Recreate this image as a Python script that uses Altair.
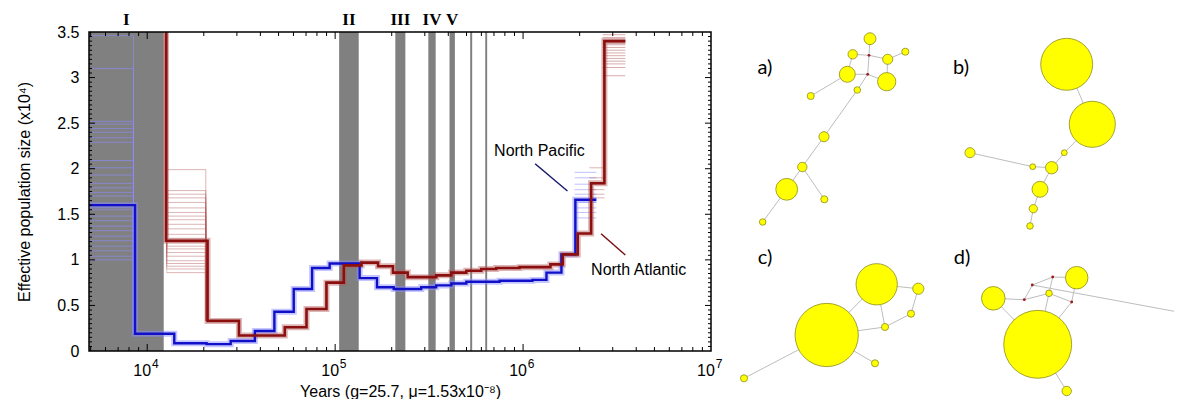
import altair as alt
import pandas as pd

# ------------------------------------------------------------------ data
# gray bands (years)
band_start = [4900, 105000, 209000, 313200, 406000, 523000, 629000]
band_end = [12240, 133500, 236400, 342700, 433700, 536000, 644000]
roman_labels = ["I", "II", "III", "IV", "V"]
roman_x = [7750, 118400, 222300, 327600, 419600]

# North Pacific main PSMC curve (step-after), Ne x10^4
np_years = [4900, 8610, 13930, 20700, 27800, 37400, 47500, 60200, 75400, 93500,
            135000, 167000, 205000, 287000, 345000, 415000, 499000, 750000,
            1122000, 1332000, 1600000, 1898000, 2455000]
np_ne = [1.60, 0.19, 0.085, 0.075, 0.11, 0.22, 0.43, 0.68, 0.91, 0.96,
         0.80, 0.70, 0.68, 0.70, 0.72, 0.74, 0.76, 0.77,
         0.78, 0.86, 1.06, 1.66, 1.66]

# North Atlantic main PSMC curve (step-after)
na_years = [12590, 12590, 20940, 30770, 53970, 70400, 89900, 111200, 138100,
            169200, 203100, 243200, 345400, 415000, 498900, 598800, 719400,
            957000, 1398000, 1626000, 1954000, 2302000, 2709000, 3502000]
na_ne = [4.0, 1.21, 0.33, 0.17, 0.26, 0.46, 0.75, 0.94, 0.97,
         0.93, 0.86, 0.81, 0.83, 0.86, 0.88, 0.90, 0.91,
         0.92, 0.95, 1.06, 1.29, 1.84, 3.40, 3.40]

# bootstrap levels where they spread widely
np_boot_first = [3.46, 3.10, 2.52, 2.49, 2.44, 2.40, 2.34, 2.29, 2.09, 2.01, 1.93,
                 1.84, 1.79, 1.74, 1.70, 1.55, 1.48, 1.43, 1.37, 1.32, 1.26, 1.21,
                 1.15, 1.10, 1.04, 1.00]
np_boot_first_span = [4900, 8450, 0.19]
np_boot_last = [1.96, 1.90, 1.83, 1.77, 1.72, 1.63, 1.57, 1.52, 1.46]
np_boot_last_span = [1880000, 2455000]

na_boot_first = [1.99, 1.76, 1.72, 1.68, 1.63, 1.57, 1.52, 1.48, 1.44, 1.39, 1.34,
                 1.28, 1.23, 1.19, 1.15, 1.12, 1.08, 1.04, 0.99, 0.96, 0.93, 0.90, 0.86]
na_boot_first_span = [12700, 20500, 0.33]
na_boot_pen = [2.01, 1.90, 1.83, 1.77, 1.72, 1.68]
na_boot_pen_span = [2250000, 2709000]
na_boot_last = [3.47, 3.44, 3.41, 3.38, 3.36, 3.33, 3.30, 3.27, 3.24, 3.21, 3.18,
                3.15, 3.11, 3.02]
na_boot_last_span = [2650000, 3502000]

# annotations
ann_text = ["North Pacific", "North Atlantic"]
ann_x = [1222000, 4121000]
ann_y = [2.19, 0.89]
lead_x1 = [1159000, 2600000]
lead_y1 = [2.055, 1.287]
lead_x2 = [1722000, 3500000]
lead_y2 = [1.756, 1.053]
lead_color = ["#1a1a6e", "#7a1010"]

# axis ticks
x_label_vals = [1e4, 1e5, 1e6, 1e7]
x_label_exp = ["4", "5", "6", "7"]
x_major = [1e4, 1e5, 1e6]
x_minor = [m * 10 ** e for e in (3, 4, 5, 6) for m in range(2, 10) if 4900 < m * 10 ** e < 1e7]
y_vals = [0, 0.5, 1, 1.5, 2, 2.5, 3, 3.5]
y_major = [0.5, 1.0, 1.5, 2.0, 2.5, 3.0]
y_minor = [round(0.05 * i, 2) for i in range(1, 70) if i % 10]

# haplotype networks: node id, x, y (reference pixel coords), radius
node_id = ["a1", "a2", "a3", "a4", "a5", "a6", "a7", "a8", "a9", "a10", "a11", "a12", "a13",
           "b1", "b2", "b3", "b4", "b5", "b6", "b7", "b8", "b9",
           "c1", "c2", "c3", "c4", "c5", "c6", "c7",
           "d1", "d2", "d3", "d4", "d5", "d6"]
node_x = [870, 852.7, 887.7, 905.3, 847.3, 886.7, 810.7, 857.3, 824, 802.3, 786.7, 824.3, 762.7,
          1066.7, 1092.3, 1064.3, 970, 1032.7, 1051.7, 1040, 1033.3, 1030,
          876.7, 826.7, 918.3, 911, 885, 875, 744,
          1076.7, 993.3, 1049, 1037.7, 1066.7, 1181.7]
node_y = [37.7, 53.3, 58.3, 50.7, 73.3, 80.7, 95, 89, 135.7, 166, 188.3, 198.3, 221,
          63.3, 123.3, 151.7, 151.7, 165.7, 166.7, 188.3, 207.7, 225,
          283.3, 334, 287.7, 312.7, 326, 362.3, 377.3,
          276.7, 297.3, 292.3, 343.3, 390, 311.7]
node_r = [6.7, 5.3, 5.7, 4.0, 9.0, 10.3, 4.0, 3.7, 5.7, 5.3, 12.3, 4.0, 3.7,
          29.3, 26, 3.3, 5.7, 3.3, 7, 9, 4.7, 3.7,
          23.3, 35.7, 6.3, 4, 4, 4, 4,
          12.7, 13.3, 3.7, 38.3, 5.3, 3.3]
median_id = ["am1", "am2", "dm1", "dm2", "dm3", "dm4"]
median_x = [869, 867.7, 1032.3, 1052.7, 1024.3, 1071.7]
median_y = [54.3, 73.3, 284, 276, 298.7, 301]
edges = [("a1", "am1"), ("a2", "am1"), ("am1", "a3"), ("a3", "a4"), ("am1", "am2"),
         ("a5", "am2"), ("am2", "a6"), ("a2", "a5"), ("a3", "a6"), ("a5", "a7"),
         ("am2", "a8"), ("a8", "a9"), ("a9", "a10"), ("a10", "a11"), ("a10", "a12"),
         ("a11", "a13"),
         ("b1", "b2"), ("b2", "b3"), ("b3", "b6"), ("b4", "b5"), ("b5", "b6"),
         ("b6", "b7"), ("b7", "b8"), ("b8", "b9"),
         ("c2", "c1"), ("c1", "c3"), ("c3", "c4"), ("c4", "c5"), ("c5", "c1"),
         ("c5", "c2"), ("c2", "c6"), ("c2", "c7"),
         ("dm2", "d1"), ("dm1", "dm2"), ("dm1", "dm3"), ("dm2", "d3"), ("dm3", "d3"),
         ("d2", "dm3"), ("d3", "dm4"), ("dm4", "d1"), ("dm1", "d6"), ("d3", "d4"),
         ("dm4", "d4"), ("d2", "d4"), ("d4", "d5")]
panel_labels = ["a)", "b)", "c)", "d)"]
panel_lx = [765, 961, 765, 962]
panel_ly = [67, 67, 257, 257]

# ------------------------------------------------------------------ chart
FONT = "Liberation Sans"
W, H = 622, 319
BLUE, BLUE_L = "#1010c8", "#8c8cff"
RED, RED_L = "#8b0f0f", "#b35a5a"

XSCALE = alt.Scale(type="log", domain=[4900, 1e7], nice=False)
YSCALE = alt.Scale(domain=[0, 3.5], nice=False, zero=False)
XAXIS = alt.Axis(values=x_label_vals, labels=False, ticks=False, domain=False, grid=False,
                 title="Years (g=25.7, μ=1.53x10⁻⁸)", titlePadding=32)
YAXIS = alt.Axis(values=y_vals, format="~g", ticks=False, domain=False, grid=False,
                 labelPadding=10, title="Effective population size (x10⁴)", titlePadding=24)


def X(f="x"):
    return alt.X(f"{f}:Q", scale=XSCALE, axis=XAXIS)


def Y(f="y"):
    return alt.Y(f"{f}:Q", scale=YSCALE, axis=YAXIS)


bands = alt.Chart(pd.DataFrame({"x": band_start, "x2": band_end})).mark_rect(
    color="#808080").encode(x=X(), x2="x2:Q", y=alt.value(0), y2=alt.value(H))


def step_df(xs, ys):
    return pd.DataFrame({"x": xs, "y": ys, "o": list(range(len(xs)))})


def hrules(levels, x0, x1):
    return pd.DataFrame({"x": [x0] * len(levels), "x2": [x1] * len(levels), "y": levels})


boot_layers = []
for levels, span, col, op in [
    (np_boot_first, np_boot_first_span, BLUE_L, 0.6),
    (np_boot_last, np_boot_last_span, BLUE_L, 0.55),
    (na_boot_first, na_boot_first_span, RED_L, 0.45),
    (na_boot_pen, na_boot_pen_span, RED_L, 0.45),
    (na_boot_last, na_boot_last_span, RED_L, 0.5),
]:
    boot_layers.append(alt.Chart(hrules(levels, span[0], span[1])).mark_rule(
        color=col, strokeWidth=1, opacity=op, clip=True).encode(x=X(), x2="x2:Q", y=Y()))
    if len(span) == 3:
        vdf = pd.DataFrame({"x": [span[1]] * len(levels), "y": levels, "y2": [span[2]] * len(levels)})
        boot_layers.append(alt.Chart(vdf).mark_rule(
            color=col, strokeWidth=1, opacity=op, clip=True).encode(x=X(), y=Y(), y2="y2:Q"))

# red bootstraps rising to the top at the start
na_vert = pd.DataFrame({"x": [12700] * len(na_boot_first), "y": na_boot_first,
                        "y2": [3.5] * len(na_boot_first)})
boot_layers.append(alt.Chart(na_vert).mark_rule(color=RED_L, strokeWidth=1, opacity=0.3).encode(
    x=X(), y=Y(), y2="y2:Q"))


def line(xs, ys, color, width, op):
    return alt.Chart(step_df(xs, ys)).mark_line(
        color=color, strokeWidth=width, opacity=op, interpolate="step-after", clip=True
    ).encode(x=X(), y=Y(), order="o:Q")


halos = [line(np_years, np_ne, BLUE_L, 6, 0.5), line(na_years, na_ne, RED_L, 6, 0.45)]
mains = [line(np_years, np_ne, BLUE, 2.4, 1), line(na_years, na_ne, RED, 2.6, 1)]


def tick_layers():
    out = []
    for vals, L in [(x_major, 7), (x_minor, 4)]:
        d = pd.DataFrame({"x": vals})
        out.append(alt.Chart(d).mark_rule(color="black", strokeWidth=1).encode(
            x=X(), y=alt.value(H), y2=alt.value(H - L)))
        out.append(alt.Chart(d).mark_rule(color="black", strokeWidth=1).encode(
            x=X(), y=alt.value(0), y2=alt.value(L)))
    for vals, L in [(y_major, 6), (y_minor, 3)]:
        d = pd.DataFrame({"y": vals})
        out.append(alt.Chart(d).mark_rule(color="black", strokeWidth=1).encode(
            y=Y(), x=alt.value(0), x2=alt.value(L)))
        out.append(alt.Chart(d).mark_rule(color="black", strokeWidth=1).encode(
            y=Y(), x=alt.value(W), x2=alt.value(W - L)))
    return out


frame = alt.Chart(pd.DataFrame({"k": [0]})).mark_rect(
    filled=False, stroke="black", strokeWidth=1.5).encode(
    x=alt.value(0), x2=alt.value(W), y=alt.value(0), y2=alt.value(H))

xlab_df = pd.DataFrame({"x": x_label_vals, "base": ["10"] * 4, "exp": x_label_exp})
xlab = alt.Chart(xlab_df).mark_text(font=FONT, fontSize=16, dx=-5, baseline="alphabetic",
                                    color="black").encode(x=X(), y=alt.value(H + 25), text="base:N")
xexp = alt.Chart(xlab_df).mark_text(font=FONT, fontSize=12, dx=8, baseline="alphabetic",
                                    color="black").encode(x=X(), y=alt.value(H + 17), text="exp:N")

roman = alt.Chart(pd.DataFrame({"x": roman_x, "t": roman_labels})).mark_text(
    font="Liberation Serif", fontWeight="bold", fontSize=17, baseline="middle", color="black"
).encode(x=X(), y=alt.value(-12), text="t:N")

ann = alt.Chart(pd.DataFrame({"x": ann_x, "y": ann_y, "t": ann_text})).mark_text(
    font=FONT, fontSize=16, baseline="middle", color="black").encode(x=X(), y=Y(), text="t:N")
leads = alt.Chart(pd.DataFrame({"x": lead_x1, "y": lead_y1, "x2": lead_x2, "y2": lead_y2,
                                "c": lead_color})).mark_rule(strokeWidth=1.5).encode(
    x=X(), y=Y(), x2="x2:Q", y2="y2:Q", color=alt.Color("c:N", scale=None))

left = alt.layer(bands, *boot_layers, *halos, *mains, *tick_layers(), frame, xlab, xexp,
                 roman, ann, leads).properties(width=W, height=H)

# ---------------- network panel (aligned with the plot top at y=31)
NW, NH = 434, 366
NX = alt.Scale(domain=[740, 740 + NW], nice=False, zero=False)
NY = alt.Scale(domain=[31, 31 + NH], nice=False, zero=False, reverse=True)
pos = {i: (x, y) for i, x, y in zip(node_id, node_x, node_y)}
pos.update({i: (x, y) for i, x, y in zip(median_id, median_x, median_y)})
edge_df = pd.DataFrame({"x1": [pos[a][0] for a, b in edges], "y1": [pos[a][1] for a, b in edges],
                        "x2": [pos[b][0] for a, b in edges], "y2": [pos[b][1] for a, b in edges]})
node_df = pd.DataFrame({"x": node_x, "y": node_y, "area": [3.14159 * r * r for r in node_r]})
med_df = pd.DataFrame({"x": median_x, "y": median_y})
lab_df = pd.DataFrame({"x": panel_lx, "y": panel_ly, "t": panel_labels})

e_layer = alt.Chart(edge_df).mark_rule(color="#bdbdbd", strokeWidth=1, clip=True).encode(
    x=alt.X("x1:Q", scale=NX, axis=None), y=alt.Y("y1:Q", scale=NY, axis=None),
    x2="x2:Q", y2="y2:Q")
n_layer = alt.Chart(node_df).mark_circle(color="#ffff00", opacity=1, stroke="#8c8c1e",
                                         strokeWidth=0.8, clip=True).encode(
    x=alt.X("x:Q", scale=NX, axis=None), y=alt.Y("y:Q", scale=NY, axis=None),
    size=alt.Size("area:Q", scale=None))
m_layer = alt.Chart(med_df).mark_circle(color="#9b1b1b", opacity=1, size=8).encode(
    x=alt.X("x:Q", scale=NX, axis=None), y=alt.Y("y:Q", scale=NY, axis=None))
l_layer = alt.Chart(lab_df).mark_text(font="Lato", fontSize=20, baseline="middle",
                                      color="black").encode(
    x=alt.X("x:Q", scale=NX, axis=None), y=alt.Y("y:Q", scale=NY, axis=None), text="t:N")

right = alt.layer(e_layer, n_layer, m_layer, l_layer).properties(width=NW, height=NH)

chart = alt.hconcat(left, right, spacing=17).properties(
    padding={"left": 8, "top": 3, "right": 0, "bottom": 0}
).configure_view(stroke=None).configure_axis(
    labelFont=FONT, labelFontSize=16, labelColor="black",
    titleFont=FONT, titleFontSize=16, titleFontWeight="normal", titleColor="black")

chart.save("out.html", embed_options={"renderer": "svg", "actions": False})
